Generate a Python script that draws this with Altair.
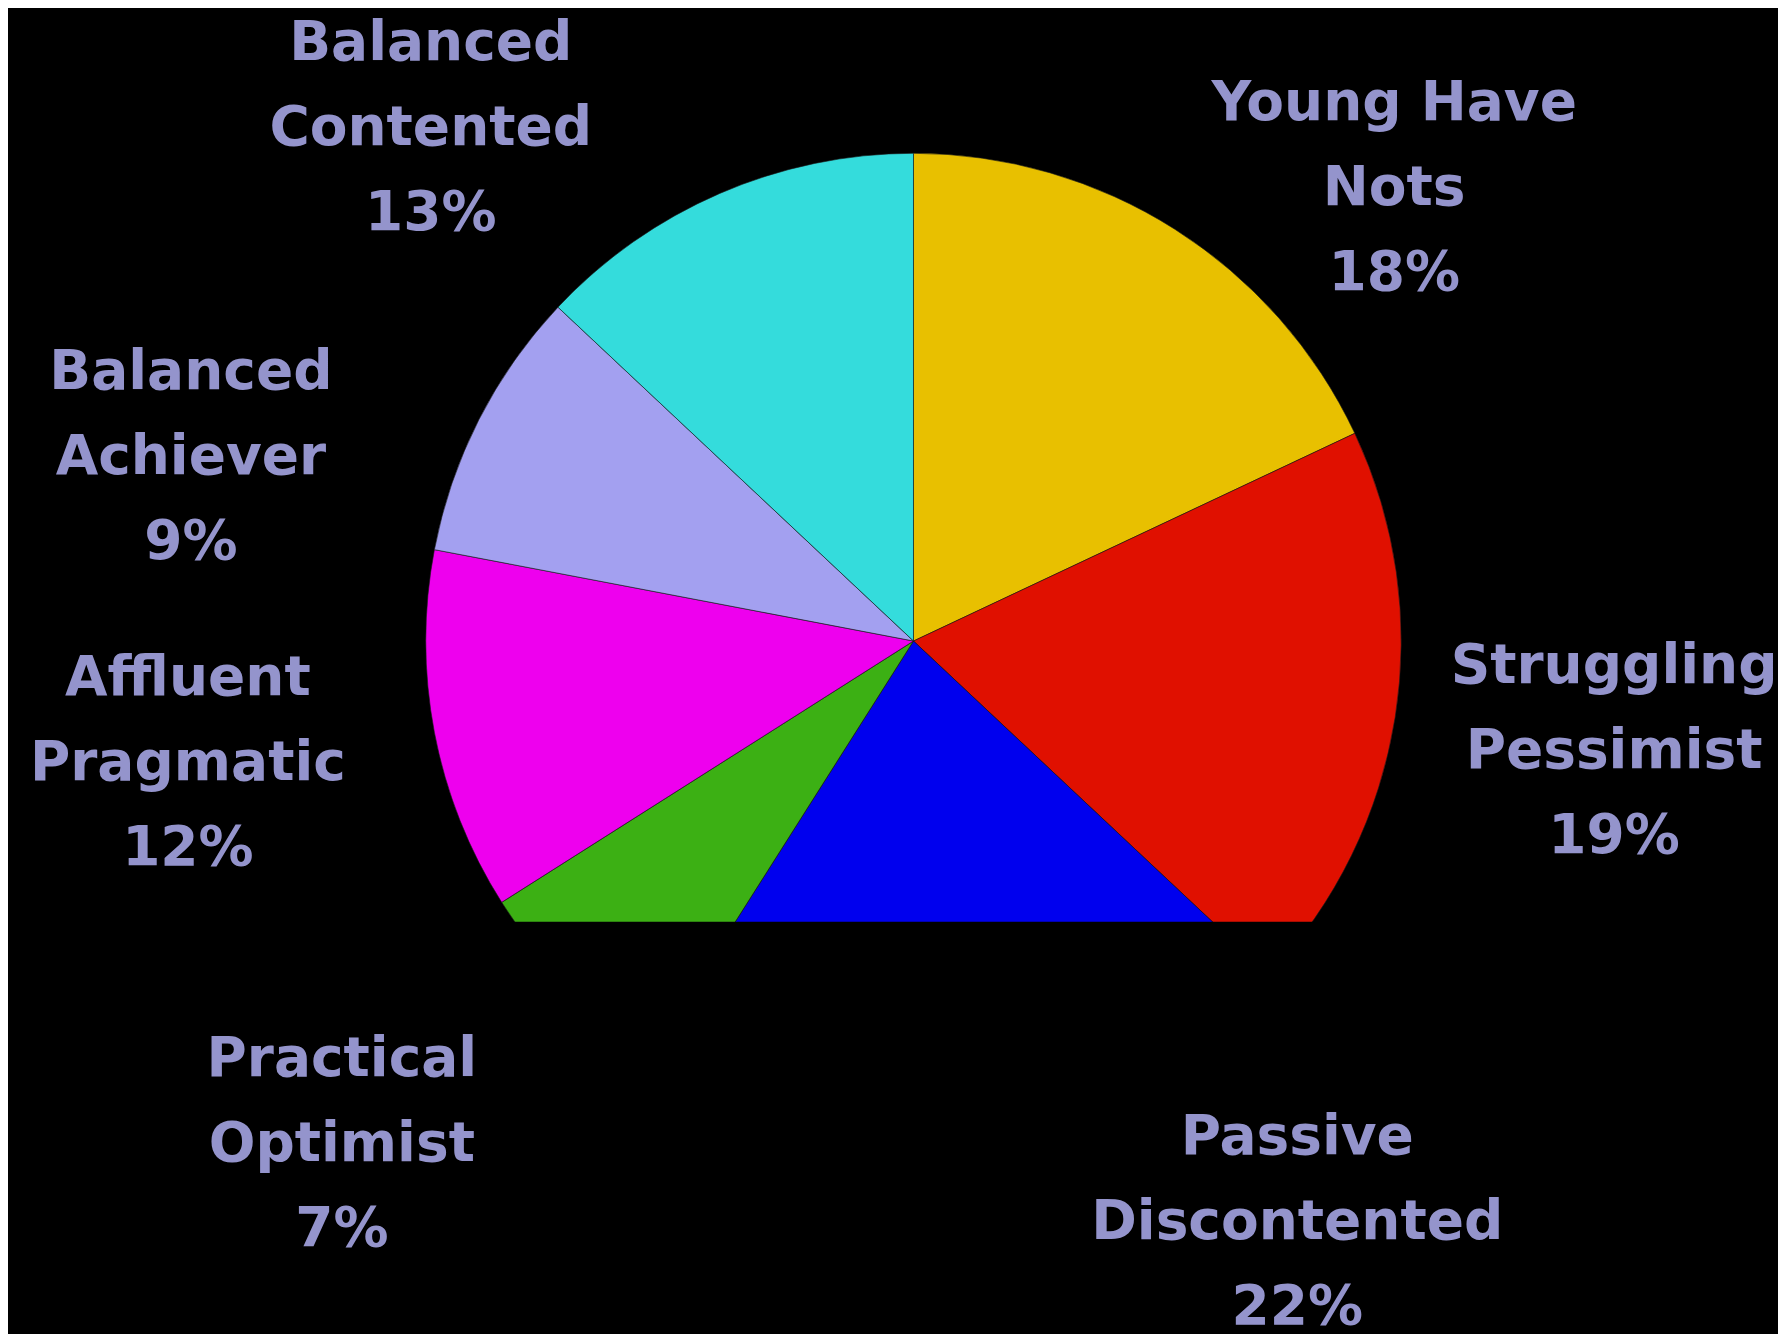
import altair as alt
import pandas as pd

# --- data ---
segments = ["Young Have Nots", "Struggling Pessimist", "Passive Discontented",
            "Practical Optimist", "Affluent Pragmatic", "Balanced Achiever",
            "Balanced Contented"]
shares = [18, 19, 22, 7, 12, 9, 13]
label_lines = ["Young Have\nNots", "Struggling\nPessimist", "Passive\nDiscontented",
               "Practical\nOptimist", "Affluent\nPragmatic", "Balanced\nAchiever",
               "Balanced\nContented"]

# --- styling / layout (not data) ---
colors = ["#E8C000", "#E01000", "#0000EE", "#3CB014", "#EE00EE", "#A3A0F0", "#34DCDC"]
label_x = [1387, 1607, 1290, 334, 180, 183, 423]
label_y = [95, 658, 1129, 1051, 670, 364, 35]

W, H = 1740, 1290
CX, CY, R = 906, 633, 488
CLIP_Y = 914

df = pd.DataFrame({
    "segment": segments,
    "share": shares,
    "order": list(range(len(segments))),
    "label": [f"{l}\n{s}%" for l, s in zip(label_lines, shares)],
    "lx": label_x,
    "ly": label_y,
})

pie = alt.Chart(df).mark_arc(outerRadius=R, stroke="#1a1a1a", strokeWidth=0.6).encode(
    theta=alt.Theta("share:Q", stack=True),
    order=alt.Order("order:Q"),
    color=alt.Color("segment:N", scale=alt.Scale(domain=segments, range=colors), legend=None),
    x=alt.value(CX),
    y=alt.value(CY),
)

mask = alt.Chart(alt.Data(values=[{"a": 1}])).mark_rect(color="black").encode(
    x=alt.value(0), x2=alt.value(W), y=alt.value(CLIP_Y), y2=alt.value(H)
)

labels = alt.Chart(df).mark_text(
    font="DejaVu Sans", fontWeight="bold", fontSize=55, color="#9494CC",
    lineBreak="\n", lineHeight=85, align="center", baseline="middle",
).encode(
    text="label:N",
    x=alt.X("lx:Q", scale=None),
    y=alt.Y("ly:Q", scale=None),
)

chart = alt.layer(pie, mask, labels).properties(
    width=W, height=H, padding=0, background="black"
).configure_view(strokeWidth=0)

chart.save("out.html", embed_options={"renderer": "svg", "actions": False})
